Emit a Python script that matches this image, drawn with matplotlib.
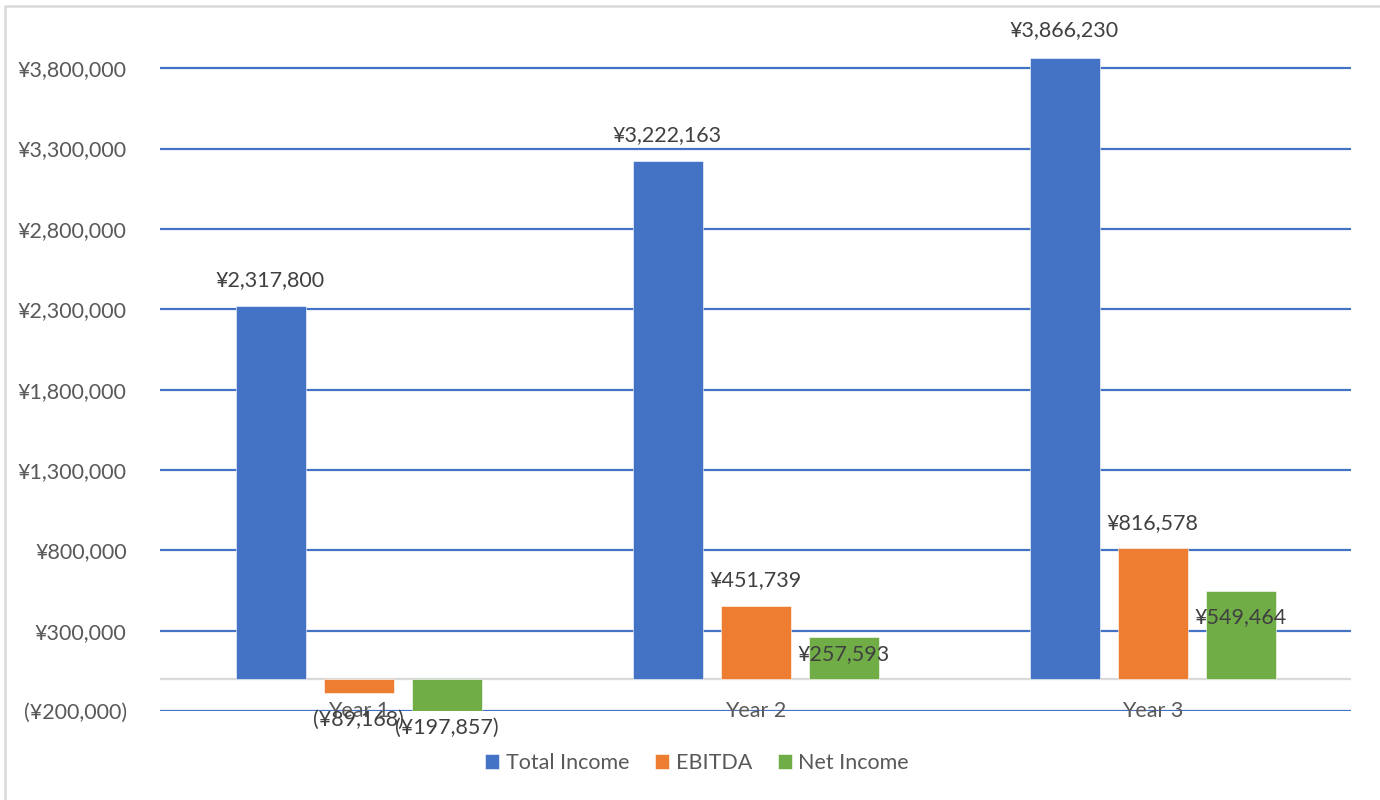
import numpy as np
import matplotlib.pyplot as plt
from matplotlib.lines import Line2D

years = ['Year 1', 'Year 2', 'Year 3']
series = ['Total Income', 'EBITDA', 'Net Income']
total_income = [2317800, 3222163, 3866230]
ebitda = [-89168, 451739, 816578]
net_income = [-197857, 257593, 549464]
yticks = [-200000, 300000, 800000, 1300000, 1800000, 2300000, 2800000, 3300000, 3800000]

colors = ['#4472C4', '#ED7D31', '#70AD47']
# label offset from bar end, pixels (positive = away from zero)
label_px = [[26, 26, 27], [27, 26, 25], [17, -17, -27]]

plt.rcParams['font.family'] = ['Lato', 'DejaVu Sans']

W, H = 1380, 800
fig = plt.figure(figsize=(W / 100, H / 100), dpi=100)
ax = fig.add_axes([160 / W, 1 - 711 / H, (1351 - 160) / W, (711 - 20) / H])

# chart-area border (only top and left edges are visible in the crop)
fig.add_artist(Line2D([5 / W, 5 / W, 1], [0, 1 - 6 / H, 1 - 6 / H], transform=fig.transFigure,
                      color='#D9D9D9', linewidth=1.8))


def money(v):
    s = '¥{:,.0f}'.format(abs(v))
    return '(' + s + ')' if v < 0 else s


x = np.arange(len(years))
width = 70 / 397
step = 88 / 397
for i, (name, vals) in enumerate(zip(series, [total_income, ebitda, net_income])):
    xs = x + (i - 1) * step
    ax.bar(xs, vals, width, color=colors[i], label=name, zorder=3, edgecolor='white', linewidth=0.4)
    for xi, v, px in zip(xs, vals, label_px[i]):
        dy = px * 72 / 100 * (1 if v >= 0 else -1)
        ax.annotate(money(v), (xi, v), xytext=(0, dy), textcoords='offset points',
                    ha='center', va='center', fontsize=15.5, color='#404040', zorder=5)

ax.set_xlim(-0.5, 2.5)
ax.set_ylim(-200000, 4100000)
ax.set_yticks(yticks)
ax.set_yticklabels([money(t) for t in yticks])
ax.tick_params(axis='y', length=0, pad=24, labelsize=15.5, labelcolor='#595959')
ax.set_xticks([])
for t in yticks:
    ax.axhline(t, color='#4472C4', linewidth=1.6, zorder=1)
ax.axhline(0, color='#D9D9D9', linewidth=1.6, zorder=2)
for xi, lab in zip(x, years):
    ax.text(xi, -200000, lab, ha='center', va='center', fontsize=15.5, color='#595959', zorder=4)
for s in ax.spines.values():
    s.set_visible(False)

fig.legend(loc='center', bbox_to_anchor=(697 / W, 1 - 763 / H), ncol=3, frameon=False,
           fontsize=15.5, labelcolor='#595959', handlelength=0.65, handleheight=0.65,
           handletextpad=0.3, columnspacing=1.2)

fig.savefig('out.png', dpi=100)
